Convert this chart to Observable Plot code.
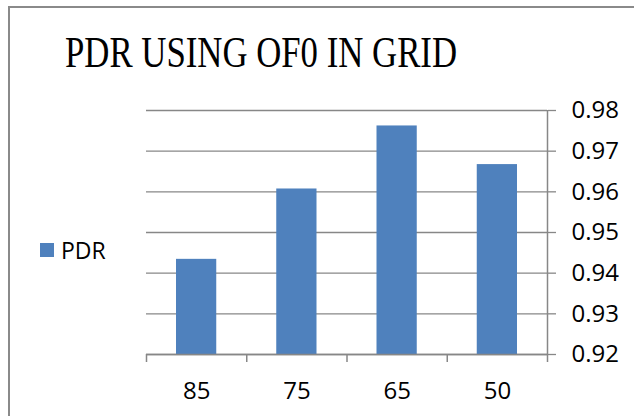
<!DOCTYPE html>
<html>
<head>
<meta charset="utf-8">
<script src="https://cdn.jsdelivr.net/npm/d3@7"></script>
<script src="https://cdn.jsdelivr.net/npm/@observablehq/plot@0.6"></script>
<style>
  html, body { margin: 0; padding: 0; background: #fff; }
  #wrap { position: relative; width: 634px; height: 416px; overflow: hidden; background: #fff; }
  #border { position: absolute; left: 8px; top: 6px; width: 640px; height: 420px;
            border-left: 2px solid #8a8a8a; border-top: 2px solid #8a8a8a; box-sizing: border-box; }
  #title { position: absolute; left: 0; width: 522px; top: 31px; text-align: center;
           font-family: "Liberation Serif", "Times New Roman", serif; font-size: 44px; line-height: 44px;
           color: #000; white-space: nowrap; transform: scaleX(0.79); transform-origin: 261px 0; }
  #legend { position: absolute; left: 40px; top: 234px; display: flex; align-items: center;
            font-family: "Open Sans", sans-serif; font-size: 23px; color: #000; }
  #legend .sw { width: 14px; height: 14px; background: #4F81BD; margin-right: 7px; }
  #chart { position: absolute; left: 0; top: 0; }
</style>
</head>
<body>
<div id="wrap">
  <div id="border"></div>
  <div id="chart"></div>
  <div id="title">PDR USING OF0 IN GRID</div>
  <div id="legend"><div class="sw"></div><span>PDR</span></div>
</div>
<script>
const categories = ["85", "75", "65", "50"];
const pdrValues = [0.9434, 0.9607, 0.9762, 0.9667];
const yTicks = [0.92, 0.93, 0.94, 0.95, 0.96, 0.97, 0.98];
const seriesName = "PDR";

const data = categories.map((c, i) => ({cat: c, i, pdr: pdrValues[i]}));
const boundaries = d3.range(categories.length + 1);
const centers = categories.map((c, i) => i + 0.5);
const gray = "#878787";
const barColor = "#4F81BD";

const plot = Plot.plot({
  width: 634,
  height: 416,
  marginLeft: 146,
  marginRight: 87,
  marginTop: 110,
  marginBottom: 62,
  style: {fontFamily: "Open Sans, sans-serif", fontSize: "24px", color: "#000", background: "transparent", overflow: "visible"},
  x: {type: "linear", domain: [0, categories.length]},
  y: {domain: [yTicks[0], yTicks[yTicks.length - 1]]},
  marks: [
    Plot.ruleY(yTicks, {stroke: gray, strokeWidth: 1.3}),
    Plot.rectY(data, {x1: "i", x2: d => d.i + 1, y1: yTicks[0], y2: "pdr", fill: barColor, insetLeft: 30, insetRight: 30}),
    Plot.ruleX([categories.length], {y1: yTicks[0], y2: yTicks[yTicks.length - 1], stroke: gray, strokeWidth: 1.5}),
    Plot.ruleY([yTicks[0]], {stroke: gray, strokeWidth: 1.5}),
    Plot.axisY({anchor: "right", ticks: yTicks, tickSize: 8, tickPadding: 16, tickFormat: d3.format(".2f"), stroke: gray, strokeWidth: 1.3, fill: "#000", fontSize: 24, label: null}),
    Plot.axisX({anchor: "bottom", ticks: boundaries, tickSize: 8, tickFormat: () => "", stroke: gray, strokeWidth: 1.5, label: null}),
    Plot.axisX({anchor: "bottom", ticks: centers, tickSize: 0, tickPadding: 27, tickFormat: d => categories[Math.floor(d)], fill: "#000", fontSize: 24, label: null})
  ]
});
document.getElementById("chart").appendChild(plot);
document.querySelector("#legend span").textContent = seriesName;
</script>
</body>
</html>
